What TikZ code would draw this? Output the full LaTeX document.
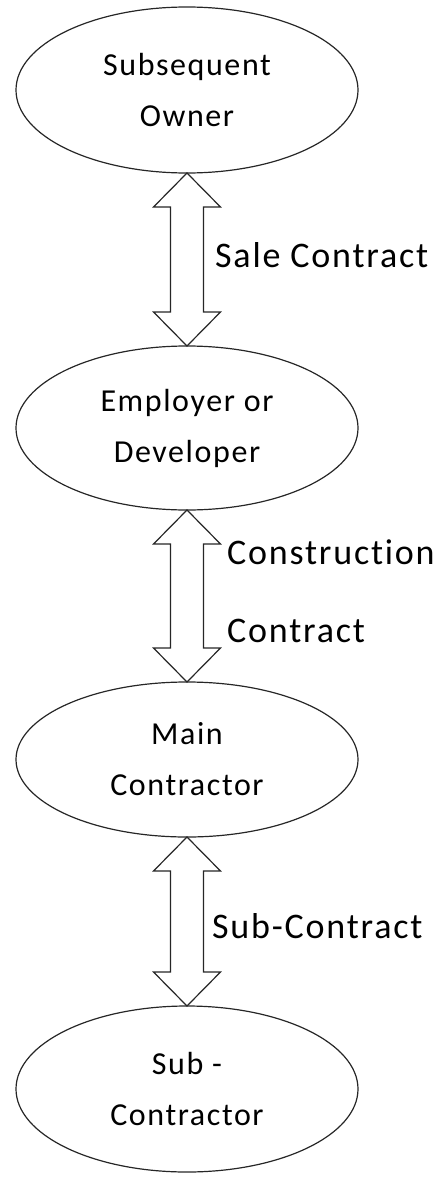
\documentclass[tikz,border=0pt]{standalone}
\usepackage{fontspec}
\setmainfont{Carlito}
\newfontfamily\lblfont[LetterSpace=5,Ligatures=NoCommon]{Carlito}
\newfontfamily\elfont[LetterSpace=5,Ligatures=NoCommon]{Carlito}
\usetikzlibrary{shapes.geometric,calc}
\newcommand\dblarr[2]{%
  \draw[dblarrow] (#1.south) -- ($(#1.south)+(33.5,34)$) -- ($(#1.south)+(16.5,34)$)
    -- ($(#2.north)+(16.5,-34)$) -- ($(#2.north)+(33.5,-34)$) -- (#2.north)
    -- ($(#2.north)+(-33.5,-34)$) -- ($(#2.north)+(-16.5,-34)$)
    -- ($(#1.south)+(-16.5,34)$) -- ($(#1.south)+(-33.5,34)$) -- cycle;}
\begin{document}
\begin{tikzpicture}[x=1pt,y=-1pt,
  ell/.style={draw=black!85, line width=1.2pt, ellipse, inner sep=0pt, outer sep=0pt,
    align=center, font=\elfont\fontsize{32}{51}\selectfont, text=black,
    minimum width=342pt},
  dblarrow/.style={draw=black!85, line width=1.2pt, fill=white, line join=miter},
  lbl/.style={font=\lblfont\fontsize{36}{42}\selectfont, anchor=base west,
    inner sep=0pt, text=black}]
\useasboundingbox (0,0) rectangle (438,1180);
\node[ell, minimum height=166pt] (e1) at (187,90) {Subsequent\\Owner};
\node[ell, minimum height=164pt] (e2) at (187,428) {Employer or\\Developer};
\node[ell, minimum height=155pt] (e3) at (187,759.5) {Main\\Contractor};
\node[ell, minimum height=166pt] (e4) at (187,1089) {Sub -\\Contractor};
\dblarr{e1}{e2}
\dblarr{e2}{e3}
\dblarr{e3}{e4}
\node[lbl] (l1) at (215,267) {Sale Contract};
\node[lbl] (l2a) at (227,564) {Construction};
\node[lbl] (l2b) at (227,642) {Contract};
\node[lbl] (l3) at (212,938) {Sub-Contract};
\end{tikzpicture}
\end{document}
